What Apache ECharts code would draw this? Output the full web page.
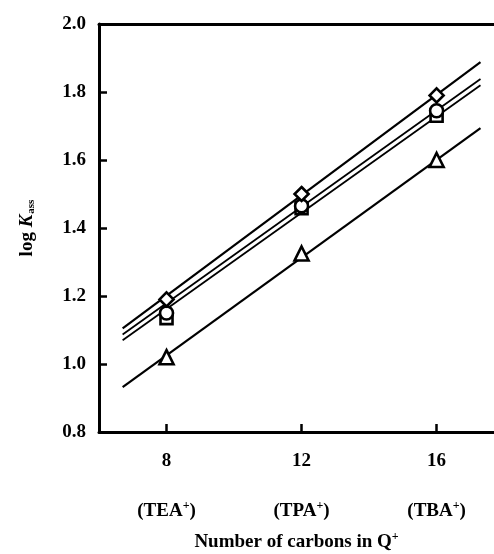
<!DOCTYPE html>
<html>
<head>
<meta charset="utf-8">
<script src="https://cdn.jsdelivr.net/npm/echarts@6/dist/echarts.min.js"></script>
<style>html,body{margin:0;padding:0;background:#fff;}#c{width:494px;height:554px;}</style>
</head>
<body>
<div id="c"></div>
<script>
const carbons = [8, 12, 16];
const ionLabels = ['(TEA', '(TPA', '(TBA'];
const yTickStart = 0.8;
const diamondVals = [1.19, 1.50, 1.79];
const circleVals = [1.15, 1.465, 1.745];
const squareVals = [1.135, 1.458, 1.73];
const triangleVals = [1.02, 1.325, 1.60];
const fitX = [6.7, 17.3];
const diamondFit = [1.105, 1.888];
const circleFit = [1.087, 1.838];
const squareFit = [1.070, 1.820];
const triangleFit = [0.932, 1.694];

const FONT = '"Liberation Serif", "DejaVu Serif", serif';
const FS = 19;
const pts = (xs, ys) => xs.map((x, i) => [x, ys[i]]);

function fitSeries(ys, w) {
  return { type: 'line', data: pts(fitX, ys), symbol: 'none', silent: true,
    lineStyle: { color: '#000', width: w }, z: 2 };
}
function markSeries(ys, symbol, size) {
  return { type: 'scatter', data: pts(carbons, ys), symbol: symbol, symbolSize: size,
    itemStyle: { color: '#fff', borderColor: '#000', borderWidth: 2.6, opacity: 1 }, z: 5 };
}
const bold = (size, extra) => Object.assign({ fontFamily: FONT, fontSize: size, fontWeight: 'bold', color: '#000' }, extra || {});

const chart = echarts.init(document.getElementById('c'), null, { renderer: 'canvas' });
chart.setOption({
  animation: false,
  backgroundColor: '#fff',
  grid: { left: 99, top: 24, width: 395, height: 408, show: false, outerBoundsMode: 'none', containLabel: false },
  xAxis: [{
    type: 'value', min: 6, max: 17.7,
    axisLine: { show: true, onZero: false, lineStyle: { color: '#000', width: 3 } },
    splitLine: { show: false },
    axisTick: { show: true, inside: true, length: 8, customValues: carbons, lineStyle: { color: '#000', width: 2.5 } },
    axisLabel: {
      customValues: carbons, margin: 16,
      formatter: function (v) {
        const i = carbons.indexOf(v);
        return '{n|' + v + '}\n{c|' + ionLabels[i] + '}{s|+}{c|)}';
      },
      rich: {
        n: bold(FS, { lineHeight: 26 }),
        c: bold(FS, { lineHeight: 74 }),
        s: bold(12, { lineHeight: 74, padding: [0, 0, 11, 0] })
      }
    },
    name: '{t|Number of carbons in Q}{s|+}',
    nameLocation: 'middle', nameGap: 99,
    nameTextStyle: { rich: { t: bold(FS), s: bold(12, { padding: [0, 0, 11, 0] }) } }
  }, {
    type: 'value', min: 6, max: 17.7, position: 'top',
    axisLine: { show: true, onZero: false, lineStyle: { color: '#000', width: 3 } },
    splitLine: { show: false }, axisTick: { show: false }, axisLabel: { show: false }
  }],
  yAxis: {
    type: 'value', min: yTickStart, max: 2.0, interval: 0.2,
    axisLine: { show: true, onZero: false, lineStyle: { color: '#000', width: 3 } },
    splitLine: { show: false },
    axisTick: { show: true, inside: true, length: 8, lineStyle: { color: '#000', width: 2.5 } },
    axisLabel: Object.assign({ margin: 13, formatter: v => v.toFixed(1) }, bold(FS)),
    name: '{a|log }{k|K}{s|ass}',
    nameLocation: 'middle', nameGap: 62, nameRotate: 90,
    nameTextStyle: {
      rich: {
        a: bold(FS),
        k: bold(FS, { fontStyle: 'italic' }),
        s: bold(11, { padding: [9, 0, 0, 1] })
      }
    }
  },
  series: [
    fitSeries(diamondFit, 2.2), fitSeries(circleFit, 1.8), fitSeries(squareFit, 1.8), fitSeries(triangleFit, 2.2),
    markSeries(squareVals, 'rect', 12),
    markSeries(circleVals, 'circle', 13),
    markSeries(diamondVals, 'diamond', 14),
    markSeries(triangleVals, 'triangle', 14)
  ]
});
</script>
</body>
</html>
